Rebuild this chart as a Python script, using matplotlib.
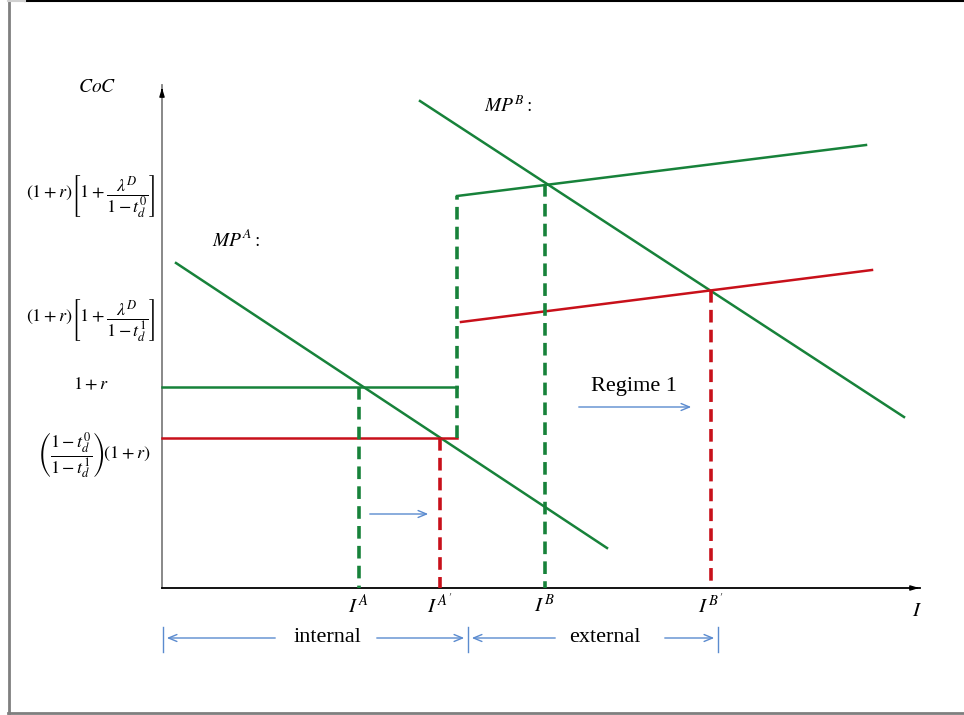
import matplotlib
matplotlib.use("Agg")
import matplotlib.pyplot as plt

plt.rcParams["mathtext.fontset"] = "stix"
plt.rcParams["font.family"] = ["Liberation Serif", "DejaVu Serif"]

GREEN = "#17823a"
RED = "#c8101a"
BLUE = "#5b8bcf"
GRAY = "#7f7f7f"

# Diagram coordinates (canvas units: x to the right, y downward)
origin = (162, 588)
y_axis_top = 85
x_axis_end = 920

# Marginal product schedules (downward sloping)
mpA_x = [176, 607]
mpA_y = [263, 548]
mpB_x = [420, 904]
mpB_y = [101, 417]

# Cost-of-capital schedules, regime 0 (green) and regime 1 (red)
coc0_flat_x = [162, 457]
coc0_flat_y = [387, 387]
coc0_jump_x = [457, 457]
coc0_jump_y = [438, 196]
coc0_ext_x = [457, 866]
coc0_ext_y = [196, 145]

coc1_flat_x = [162, 457]
coc1_flat_y = [438, 438]
coc1_ext_x = [461, 872]
coc1_ext_y = [322, 270]

# Investment levels at the intersections
inv_x = [359, 440, 545, 711]
inv_top = [387, 438, 184, 290]
inv_color = [GREEN, RED, GREEN, RED]
inv_labels = [r"$I^{\,A}$", r"$I^{\,A'}$", r"$I^{\,B}$", r"$I^{\,B'}$"]

# Y-axis labels
ylab_y = [196, 320, 385, 455]
ylab_x = [91, 91, 91, 94]
ylab_text = [
    r"$\left(1+r\right)\left[1+\dfrac{\lambda^{D}}{1-t_{d}^{0}}\right]$",
    r"$\left(1+r\right)\left[1+\dfrac{\lambda^{D}}{1-t_{d}^{1}}\right]$",
    r"$1+r$",
    r"$\left(\dfrac{1-t_{d}^{0}}{1-t_{d}^{1}}\right)\!\left(1+r\right)$",
]

# Range brackets below the axis
span_y = 638
span_edges = [163, 468, 718]
span_names = ["internal", "external"]
span_text_x = [327, 605]
span_gaps = [(278, 374), (558, 662)]

fig = plt.figure(figsize=(9.64, 7.15), dpi=100)
ax = fig.add_axes([0, 0, 1, 1])
ax.set_xlim(0, 964)
ax.set_ylim(715, 0)
ax.axis("off")

# Outer frame
ax.plot([8.5, 8.5], [0, 713], color=GRAY, lw=2)
ax.plot([8, 964], [713, 713], color=GRAY, lw=2)
ax.plot([25, 964], [0.5, 0.5], color="black", lw=1.5)
ax.plot([8, 25], [0.5, 0.5], color="#d0d0d0", lw=1.5)

# Axes
ax.plot([origin[0], origin[0]], [origin[1], y_axis_top], color=GRAY, lw=1.3)
ax.plot([origin[0], x_axis_end], [origin[1], origin[1]], color="black", lw=1.3)
ax.annotate("", xy=(origin[0], y_axis_top), xytext=(origin[0], y_axis_top + 8),
            arrowprops=dict(arrowstyle="-|>,head_length=0.5,head_width=0.15",
                            color="black", lw=1.0))
ax.annotate("", xy=(x_axis_end + 2, origin[1]), xytext=(x_axis_end - 8, origin[1]),
            arrowprops=dict(arrowstyle="-|>,head_length=0.5,head_width=0.15",
                            color="black", lw=1.0))
ax.text(97, 87, r"$CoC$", fontsize=14, ha="center", va="center")
ax.text(917, 612, r"$I$", fontsize=15, ha="center", va="center")

# Schedules
ax.plot(mpA_x, mpA_y, color=GREEN, lw=1.8)
ax.plot(mpB_x, mpB_y, color=GREEN, lw=1.8)
ax.plot(coc0_flat_x, coc0_flat_y, color=GREEN, lw=1.8)
ax.plot(coc0_ext_x, coc0_ext_y, color=GREEN, lw=1.8)
ax.plot(coc1_flat_x, coc1_flat_y, color=RED, lw=1.8)
ax.plot(coc1_ext_x, coc1_ext_y, color=RED, lw=1.8)
ax.plot(coc0_jump_x, coc0_jump_y, color=GREEN, lw=2.6, dashes=(3.5, 2))

ax.text(236, 240, r"$MP^{A}:$", fontsize=14, ha="center", va="center")
ax.text(508, 106, r"$MP^{B}:$", fontsize=14, ha="center", va="center")

# Dashed drop lines and investment labels
for x, top, c, lab in zip(inv_x, inv_top, inv_color, inv_labels):
    ax.plot([x, x], [top, origin[1]], color=c, lw=2.6, dashes=(3.5, 2))
    ax.text(x, 606, lab, fontsize=15, ha="center", va="center")

for x, y, t in zip(ylab_x, ylab_y, ylab_text):
    ax.text(x, y, t, fontsize=13, ha="center", va="center")

# Annotation arrows
arrow_style = dict(arrowstyle="->,head_length=0.6,head_width=0.25", color=BLUE, lw=1.0)
ax.annotate("", xy=(431, 514), xytext=(367, 514), arrowprops=arrow_style)
ax.annotate("", xy=(694, 407), xytext=(576, 407), arrowprops=arrow_style)
ax.text(634, 386, "Regime 1", fontsize=16, ha="center", va="center")

# Internal / external ranges
for e in span_edges:
    ax.plot([e, e], [span_y - 11, span_y + 14], color=BLUE, lw=1.0)
for (l, r), g, name, tx in zip(zip(span_edges[:-1], span_edges[1:]),
                               span_gaps, span_names, span_text_x):
    ax.annotate("", xy=(l + 1, span_y), xytext=(g[0], span_y), arrowprops=arrow_style)
    ax.annotate("", xy=(r - 1, span_y), xytext=(g[1], span_y), arrowprops=arrow_style)
    ax.text(tx, span_y - 1, name, fontsize=16, ha="center", va="center")

fig.savefig("out.png", dpi=100)
